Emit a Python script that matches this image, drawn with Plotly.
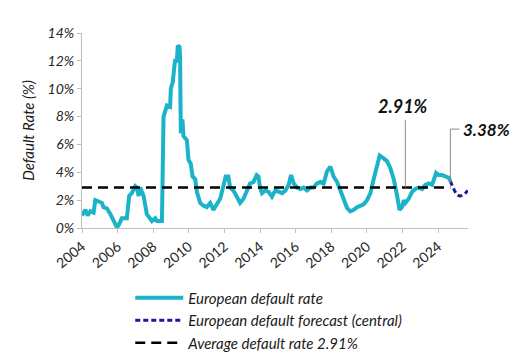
import plotly.graph_objects as go

# Actual default rate (decimal year, %)
actual_years = [2004.0, 2004.06, 2004.19, 2004.32, 2004.47, 2004.65, 2004.75, 2004.93, 2005.12, 2005.21,
                2005.40, 2005.59, 2005.78, 2005.96, 2006.06, 2006.24, 2006.52, 2006.65, 2006.80, 2006.99,
                2007.08, 2007.18, 2007.27, 2007.36, 2007.46, 2007.64, 2007.83, 2007.93, 2008.11, 2008.21,
                2008.49, 2008.58, 2008.77, 2008.95, 2008.99, 2009.10, 2009.18, 2009.23, 2009.33, 2009.38,
                2009.48, 2009.51, 2009.55, 2009.64, 2009.70, 2009.89, 2009.98, 2010.11, 2010.21, 2010.36,
                2010.45, 2010.64, 2010.82, 2011.01, 2011.20, 2011.38, 2011.57, 2011.76, 2011.94, 2012.07,
                2012.22, 2012.32, 2012.50, 2012.69, 2012.88, 2013.07, 2013.25, 2013.44, 2013.63, 2013.81,
                2013.91, 2014.00, 2014.11, 2014.30, 2014.48, 2014.67, 2014.86, 2015.05, 2015.24, 2015.43,
                2015.61, 2015.74, 2015.89, 2016.08, 2016.26, 2016.45, 2016.64, 2016.83, 2017.00, 2017.20,
                2017.39, 2017.57, 2017.76, 2017.95, 2018.04, 2018.13, 2018.33, 2018.51, 2018.70, 2018.89,
                2019.07, 2019.26, 2019.45, 2019.64, 2019.82, 2020.01, 2020.20, 2020.38, 2020.57, 2020.72,
                2020.94, 2021.13, 2021.32, 2021.51, 2021.70, 2021.83, 2021.98, 2022.07, 2022.16, 2022.35,
                2022.54, 2022.72, 2022.91, 2023.10, 2023.29, 2023.47, 2023.66, 2023.89, 2024.03, 2024.22,
                2024.41, 2024.60, 2024.69]
actual_rate = [0.9, 1.0, 1.3, 0.9, 1.2, 1.1, 2.0, 1.9, 1.8, 1.5,
               1.4, 1.0, 0.5, 0.05, 0.2, 0.7, 0.7, 2.3, 2.5, 3.0,
               2.9, 2.3, 2.9, 2.5, 2.3, 1.0, 0.7, 0.5, 0.7, 0.5,
               0.5, 8.0, 8.8, 8.7, 10.0, 10.5, 11.5, 12.0, 12.0, 13.1,
               13.0, 12.2, 6.8, 7.8, 6.6, 6.3, 4.9, 4.6, 3.7, 3.5,
               2.6, 1.8, 1.6, 1.5, 1.8, 1.3, 1.7, 2.1, 3.0, 3.7,
               3.7, 2.9, 2.7, 2.3, 1.8, 2.1, 2.7, 3.2, 3.3, 3.8,
               3.7, 2.9, 2.5, 2.7, 2.6, 2.25, 2.7, 2.6, 2.5, 2.7,
               3.1, 3.8, 3.2, 2.9, 2.8, 2.9, 2.7, 2.9, 2.9, 3.2,
               3.3, 3.2, 4.06, 4.4, 3.9, 3.7, 3.3, 2.7, 1.9, 1.43,
               1.2, 1.3, 1.5, 1.6, 1.7, 2.0, 2.5, 3.5, 4.4, 5.2,
               5.0, 4.8, 4.3, 3.5, 2.3, 1.3, 1.5, 2.0, 1.8, 2.1,
               2.6, 2.8, 2.9, 2.8, 3.1, 3.2, 3.1, 3.95, 3.8, 3.8,
               3.7, 3.6, 3.38]

# Forecast (central)
forecast_years = [2024.69, 2024.88, 2025.07, 2025.25, 2025.53, 2025.67]
forecast_rate = [3.38, 2.8, 2.4, 2.3, 2.5, 2.7]

# Long-run average
avg_years = [2004.0, 2024.69]
avg_rate = [2.91, 2.91]

tick_years = [2004, 2006, 2008, 2010, 2012, 2014, 2016, 2018, 2020, 2022, 2024]
y_ticks = [0, 2, 4, 6, 8, 10, 12, 14]
y_tick_labels = ["0%", "2%", "4%", "6%", "8%", "10%", "12%", "14%"]

FONT = "Lato, 'Open Sans', sans-serif"

fig = go.Figure()
fig.add_trace(go.Scatter(x=actual_years, y=actual_rate, mode="lines",
                         line=dict(color="#1AB3C8", width=4),
                         name="European default rate"))
fig.add_trace(go.Scatter(x=forecast_years, y=forecast_rate, mode="lines",
                         line=dict(color="#1A1A9E", width=3, dash="5px,3px", shape="spline"),
                         name="European default forecast (central)"))
fig.add_trace(go.Scatter(x=avg_years, y=avg_rate, mode="lines",
                         line=dict(color="#000000", width=2.5, dash="10px,6px"),
                         name="Average default rate 2.91%"))

# Annotation 2.91%
fig.add_shape(type="line", x0=2022.16, x1=2022.16, y0=2.91, y1=7.75,
              line=dict(color="#8C8C8C", width=1))
fig.add_annotation(x=2022.05, y=7.85, text="<b>2.91%</b>", showarrow=False,
                   yanchor="bottom",
                   font=dict(size=18, color="#111111", family=FONT, style="italic"))
# Annotation 3.38%
fig.add_shape(type="line", x0=2024.69, x1=2024.69, y0=3.25, y1=7.1,
              line=dict(color="#8C8C8C", width=1))
fig.add_shape(type="line", x0=2024.69, x1=2025.2, y0=7.1, y1=7.1,
              line=dict(color="#8C8C8C", width=1))
fig.add_annotation(x=2025.3, y=7.1, text="<b>3.38%</b>", showarrow=False,
                   xanchor="left", yanchor="middle",
                   font=dict(size=17, color="#111111", family=FONT, style="italic"))

fig.update_layout(
    width=528, height=357,
    margin=dict(l=82, r=60, t=33, b=129, autoexpand=False),
    paper_bgcolor="white", plot_bgcolor="white",
    font=dict(family=FONT, color="#262626"),
    showlegend=True,
    legend=dict(x=0.125, y=-0.274, xanchor="left", yanchor="top",
                font=dict(size=15, color="#1a1a1a", family=FONT, style="italic"),
                bgcolor="rgba(0,0,0,0)", itemwidth=48, tracegroupgap=0),
    xaxis=dict(range=[2004, 2025.68], tickmode="array", tickvals=tick_years,
               ticktext=[str(t) for t in tick_years], tickangle=-40,
               showgrid=False, zeroline=False, showline=True, linecolor="#BFBFBF",
               linewidth=1, ticks="outside", ticklen=4, tickcolor="#BFBFBF",
               tickfont=dict(size=14, color="#262626", family=FONT)),
    yaxis=dict(range=[0, 14], tickmode="array", tickvals=y_ticks,
               ticktext=y_tick_labels,
               showgrid=False, zeroline=False, showline=True, linecolor="#BFBFBF",
               linewidth=1, ticks="outside", ticklen=4, tickcolor="#BFBFBF",
               tickfont=dict(size=14, color="#262626", family=FONT, style="italic"),
               title=dict(text="Default Rate (%)", standoff=9,
                          font=dict(size=15, color="#1a1a1a", family=FONT, style="italic"))),
)

fig.write_html("out.html", config={"displayModeBar": False},
               post_script="document.body.style.margin='0';document.body.style.overflow='hidden';")
